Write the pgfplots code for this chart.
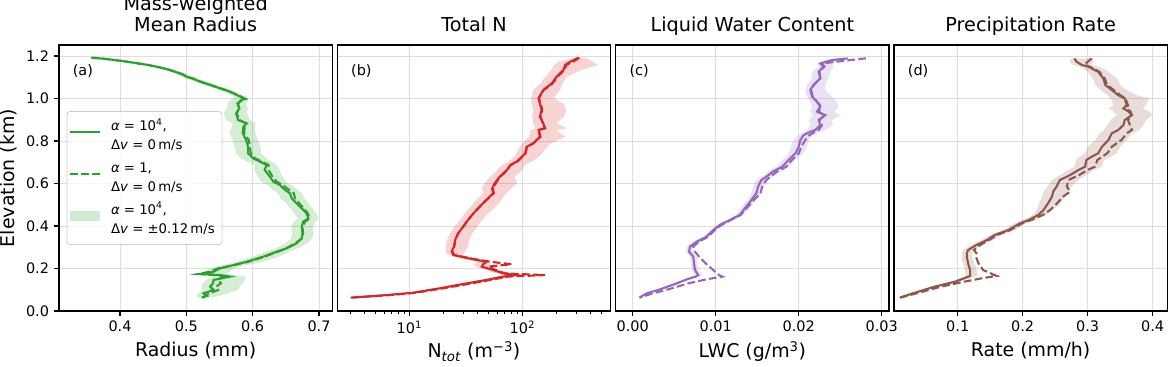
\documentclass[border=0pt]{standalone}
\usepackage{fontspec}
\setmainfont{DejaVu Sans}
\usepackage{pgfplots}
\usepackage{pgfplotstable}
\pgfplotsset{compat=1.18}
\usepgfplotslibrary{fillbetween}

\definecolor{cg}{HTML}{2CA02C}
\definecolor{cr}{HTML}{D62728}
\definecolor{cp}{HTML}{9467BD}
\definecolor{cb}{HTML}{8C564B}

\pgfplotstableread{
y sol dash lo hi
1.192 0.357 0.357 0.355 0.360
1.189 0.370 0.370 0.367 0.374
1.184 0.385 0.385 0.381 0.390
1.178 0.400 0.400 0.395 0.406
1.169 0.420 0.420 0.414 0.427
1.159 0.440 0.440 0.433 0.447
1.150 0.455 0.455 0.448 0.462
1.139 0.470 0.470 0.463 0.477
1.129 0.480 0.481 0.473 0.488
1.115 0.493 0.494 0.485 0.501
1.103 0.500 0.501 0.492 0.508
1.092 0.511 0.512 0.503 0.520
1.079 0.521 0.522 0.512 0.530
1.067 0.533 0.534 0.524 0.543
1.053 0.546 0.546 0.537 0.555
1.043 0.556 0.556 0.547 0.565
1.032 0.566 0.566 0.556 0.574
1.021 0.573 0.574 0.564 0.582
1.009 0.581 0.582 0.572 0.590
0.998 0.588 0.589 0.570 0.594
0.993 0.583 0.584 0.566 0.594
0.977 0.577 0.578 0.562 0.590
0.954 0.580 0.579 0.561 0.593
0.930 0.575 0.576 0.556 0.591
0.899 0.578 0.580 0.560 0.596
0.883 0.591 0.590 0.570 0.604
0.867 0.586 0.588 0.568 0.603
0.836 0.585 0.587 0.565 0.604
0.805 0.590 0.594 0.570 0.608
0.773 0.593 0.596 0.572 0.612
0.742 0.593 0.597 0.575 0.613
0.718 0.601 0.604 0.582 0.620
0.703 0.611 0.614 0.592 0.628
0.687 0.621 0.624 0.604 0.637
0.664 0.618 0.624 0.602 0.640
0.632 0.626 0.630 0.608 0.645
0.609 0.631 0.636 0.613 0.650
0.593 0.641 0.645 0.622 0.658
0.577 0.646 0.652 0.628 0.665
0.554 0.656 0.662 0.638 0.674
0.530 0.659 0.664 0.642 0.678
0.507 0.666 0.670 0.650 0.684
0.483 0.674 0.677 0.657 0.690
0.460 0.681 0.683 0.663 0.696
0.436 0.684 0.686 0.668 0.700
0.420 0.676 0.679 0.662 0.694
0.397 0.674 0.675 0.658 0.691
0.365 0.675 0.676 0.660 0.692
0.342 0.674 0.674 0.658 0.690
0.318 0.666 0.664 0.650 0.682
0.295 0.651 0.650 0.634 0.668
0.279 0.636 0.638 0.620 0.655
0.256 0.616 0.618 0.600 0.640
0.232 0.591 0.594 0.575 0.615
0.216 0.571 0.572 0.555 0.592
0.201 0.551 0.548 0.535 0.572
0.185 0.541 0.536 0.525 0.565
0.174 0.521 0.518 0.515 0.560
0.169 0.551 0.545 0.535 0.575
0.162 0.566 0.555 0.540 0.590
0.146 0.541 0.548 0.530 0.588
0.130 0.540 0.552 0.525 0.585
0.115 0.536 0.545 0.522 0.580
0.099 0.541 0.548 0.525 0.578
0.083 0.526 0.535 0.518 0.562
0.071 0.531 0.528 0.515 0.550
0.063 0.523 0.525 0.518 0.540
}\tabA

\pgfplotstableread{
y sol dash
1.192 313 320
1.173 264 280
1.158 239 245
1.134 231 235
1.103 201 205
1.071 182 185
1.040 153 155
1.001 139 140
0.977 143 145
0.946 148 150
0.915 143 145
0.883 153 152
0.860 159 158
0.852 139 140
0.820 143 145
0.789 125 125
0.773 109 110
0.742 106 107
0.726 99 100
0.703 89 90
0.687 78 79
0.664 73 74
0.632 63 64
0.601 57 58
0.577 54 55
0.554 55 56
0.522 48 48
0.491 42 42
0.460 37 37
0.428 33 33
0.397 30 30
0.365 27 27
0.334 25.4 25.5
0.303 24.8 25
0.279 23.7 24
0.264 24.5 25
0.253 30 31
0.240 39.4 42
0.232 48.3 52
0.220 45 80
0.209 43.7 50
0.193 55.3 58
0.177 67.9 70
0.169 89 159
0.162 68 75
0.146 48 52
0.127 30 33
0.107 18.7 20
0.086 10.8 11.5
0.075 6.3 6.8
0.063 3.03 3.1
}\tabB

% band of (b): lower edge from top to bottom, then upper edge from bottom to top
\pgfplotstableread{
x y
300 1.192
210 1.173
190 1.158
180 1.134
160 1.103
145 1.071
125 1.040
120 1.001
120 0.977
125 0.946
122 0.915
125 0.883
130 0.860
118 0.852
115 0.820
100 0.789
95 0.773
88 0.742
85 0.726
75 0.703
66 0.687
60 0.664
52 0.632
46 0.601
44 0.577
45 0.554
39 0.522
35 0.491
31 0.460
28 0.428
25 0.397
23 0.365
21.5 0.334
21 0.303
21 0.279
22 0.264
26 0.253
33 0.240
40 0.232
38 0.220
38 0.209
48 0.193
58 0.177
70 0.169
58 0.162
42 0.146
26 0.127
16.5 0.107
9.5 0.086
5.6 0.075
2.9 0.063
3.2 0.063
7 0.075
12 0.086
21 0.107
34 0.127
55 0.146
78 0.162
95 0.169
75 0.177
62 0.193
50 0.209
52 0.220
52 0.232
45 0.240
34 0.253
30 0.264
31 0.279
33 0.303
34 0.334
36 0.365
40 0.397
44 0.428
50 0.460
58 0.491
65 0.522
72 0.554
80 0.577
90 0.601
85 0.632
100 0.664
105 0.687
120 0.703
140 0.726
150 0.742
165 0.773
180 0.789
240 0.820
200 0.852
250 0.860
200 0.883
235 0.915
245 0.946
230 0.977
190 1.001
215 1.040
225 1.071
250 1.103
330 1.134
470 1.158
420 1.173
360 1.192
}\bandB

\pgfplotstableread{
y sol dash lo hi
1.189 0.0259 0.0281 0.0250 0.0262
1.181 0.0240 0.0262 0.0232 0.0250
1.165 0.0226 0.0228 0.0222 0.0240
1.150 0.0230 0.0231 0.0224 0.0242
1.126 0.0224 0.0225 0.0216 0.0238
1.095 0.0226 0.0226 0.0216 0.0236
1.064 0.0218 0.0218 0.0210 0.0232
1.040 0.0214 0.0215 0.0208 0.0232
1.009 0.0216 0.0217 0.0210 0.0240
0.985 0.0222 0.0222 0.0214 0.0246
0.962 0.0226 0.0227 0.0216 0.0248
0.938 0.0222 0.0224 0.0214 0.0243
0.922 0.0232 0.0231 0.0218 0.0250
0.899 0.0224 0.0225 0.0212 0.0240
0.875 0.0226 0.0228 0.0214 0.0241
0.852 0.0220 0.0224 0.0210 0.0232
0.844 0.0214 0.0220 0.0206 0.0226
0.828 0.0206 0.0213 0.0200 0.0216
0.805 0.0202 0.0208 0.0194 0.0212
0.773 0.0200 0.0203 0.0190 0.0210
0.742 0.0196 0.0200 0.0188 0.0205
0.711 0.0188 0.0192 0.0181 0.0196
0.679 0.0180 0.0185 0.0173 0.0188
0.656 0.0169 0.0174 0.0163 0.0177
0.632 0.0161 0.0166 0.0155 0.0168
0.616 0.0155 0.0161 0.0149 0.0162
0.585 0.0151 0.0156 0.0145 0.0157
0.554 0.0149 0.0154 0.0143 0.0155
0.522 0.0143 0.0146 0.0138 0.0148
0.483 0.0135 0.0137 0.0130 0.0140
0.452 0.0129 0.0130 0.0125 0.0133
0.428 0.0117 0.0118 0.0113 0.0121
0.405 0.0105 0.0107 0.0102 0.0109
0.381 0.0097 0.0099 0.0094 0.0100
0.350 0.0089 0.0091 0.0086 0.0092
0.326 0.0077 0.0080 0.0073 0.0081
0.303 0.0069 0.0073 0.0065 0.0073
0.279 0.0068 0.0075 0.0064 0.0072
0.256 0.0073 0.0080 0.0069 0.0077
0.224 0.0074 0.0088 0.0070 0.0078
0.193 0.0075 0.0097 0.0071 0.0080
0.169 0.0079 0.0104 0.0075 0.0084
0.162 0.0076 0.0108 0.0072 0.0081
0.150 0.0066 0.0090 0.0062 0.0070
0.130 0.0053 0.0067 0.0050 0.0056
0.102 0.0033 0.0043 0.0031 0.0035
0.083 0.0017 0.0024 0.0016 0.0019
0.063 0.0008 0.0009 0.0007 0.0009
}\tabC

\pgfplotstableread{
y sol dash lo hi
1.189 0.2795 0.3060 0.275 0.310
1.173 0.283 0.300 0.272 0.308
1.158 0.291 0.295 0.278 0.305
1.150 0.301 0.303 0.288 0.318
1.126 0.316 0.318 0.300 0.332
1.095 0.324 0.326 0.308 0.345
1.064 0.327 0.330 0.312 0.350
1.040 0.337 0.340 0.320 0.360
1.016 0.347 0.350 0.330 0.375
1.001 0.357 0.358 0.335 0.395
0.969 0.360 0.362 0.340 0.390
0.954 0.355 0.360 0.332 0.385
0.938 0.363 0.366 0.340 0.395
0.922 0.368 0.368 0.345 0.400
0.899 0.357 0.362 0.335 0.390
0.875 0.355 0.365 0.330 0.385
0.852 0.347 0.368 0.325 0.380
0.836 0.337 0.360 0.318 0.368
0.805 0.332 0.352 0.312 0.360
0.773 0.322 0.337 0.300 0.350
0.742 0.316 0.330 0.296 0.345
0.726 0.306 0.322 0.288 0.335
0.711 0.298 0.315 0.282 0.325
0.679 0.296 0.311 0.280 0.322
0.664 0.286 0.300 0.270 0.310
0.640 0.273 0.287 0.258 0.298
0.616 0.257 0.270 0.245 0.285
0.585 0.252 0.268 0.238 0.275
0.562 0.247 0.273 0.232 0.268
0.538 0.245 0.262 0.230 0.265
0.507 0.239 0.253 0.225 0.258
0.475 0.232 0.242 0.222 0.246
0.452 0.224 0.231 0.216 0.236
0.428 0.209 0.213 0.200 0.220
0.413 0.196 0.199 0.188 0.205
0.381 0.178 0.181 0.170 0.188
0.358 0.157 0.161 0.150 0.166
0.334 0.145 0.148 0.137 0.155
0.311 0.129 0.135 0.121 0.138
0.287 0.116 0.125 0.108 0.125
0.271 0.114 0.129 0.107 0.122
0.256 0.114 0.128 0.106 0.122
0.224 0.116 0.132 0.108 0.126
0.193 0.119 0.139 0.111 0.129
0.165 0.119 0.160 0.112 0.130
0.154 0.110 0.137 0.103 0.118
0.138 0.096 0.110 0.090 0.102
0.115 0.065 0.075 0.060 0.070
0.086 0.034 0.040 0.031 0.037
0.063 0.011 0.012 0.010 0.013
}\tabD

\tikzset{plab/.style={anchor=north west, inner sep=0pt, font=\fontsize{14.5}{17}\selectfont}}
\newcommand{\legtop}{\rule{0pt}{15.15bp}}
\newcommand{\legbot}{\rule[-7.35bp]{0pt}{0pt}}
\newcommand{\solidleg}{\textcolor{cg}{\rule[6.5bp]{30bp}{2.08bp}}}
\newcommand{\dashleg}{\textcolor{cg}{\rule[6.5bp]{7.7bp}{2.08bp}\hspace{3.3bp}\rule[6.5bp]{7.7bp}{2.08bp}\hspace{3.3bp}\rule[6.5bp]{7.7bp}{2.08bp}}}
\newcommand{\bandlegsample}{\textcolor{cg!22}{\rule[2.2bp]{30bp}{10.7bp}}}

\pgfplotsset{
  panel/.style={
    scale only axis, width=273.3bp, height=266bp,
    anchor=south west,
    ymin=0, ymax=1.252,
    ytick={0,0.2,0.4,0.6,0.8,1.0,1.2},
    scaled ticks=false,
    grid=major,
    major grid style={draw=black!13, line width=0.8bp},
    axis line style={line width=1.1bp},
    tick style={black, line width=1.1bp},
    tick align=outside,
    major tick length=4.9bp, minor tick length=2.8bp,
    xtick pos=left, ytick pos=left,
    tick label style={font=\fontsize{14.5}{17}\selectfont, inner sep=0pt},
    xticklabel style={anchor=north, yshift=-4.9bp},
    yticklabel style={anchor=east, xshift=-4.9bp},
    title style={font=\fontsize{19.3}{20.7}\selectfont, at={([yshift=7.6bp]axis description cs:0.5,1)}, anchor=base, inner sep=0pt, align=center},
    xlabel style={font=\fontsize{19}{23}\selectfont, at={([yshift=-30.5bp]axis description cs:0.5,0)}, anchor=north, inner sep=0pt},
    ylabel style={font=\fontsize{19}{23}\selectfont, at={([xshift=-44.5bp]axis description cs:0,0.5)}, anchor=base, inner sep=0pt},
  },
  noy/.style={yticklabels={}, ytick style={draw=none}},
  sol/.style={#1, line width=2.08bp},
  dsh/.style={#1, line width=2.08bp, dash pattern=on 7.7bp off 3.3bp},
  band/.style={fill=#1, fill opacity=0.2, draw=none},
}

\begin{document}
\begin{tikzpicture}

% (a)
\begin{axis}[panel, at={(59bp,56bp)},
  xmin=0.308, xmax=0.720,
  xtick={0.4,0.5,0.6,0.7}, xticklabels={0.4,0.5,0.6,0.7},
  yticklabels={0.0,0.2,0.4,0.6,0.8,1.0,1.2},
  title={Mass-weighted\\Mean Radius},
  xlabel={Radius (mm)}, ylabel={Elevation (km)},
]
\addplot[name path=loa, draw=none, forget plot] table[x=lo, y=y] {\tabA};
\addplot[name path=hia, draw=none, forget plot] table[x=hi, y=y] {\tabA};
\addplot[band=cg] fill between[of=loa and hia];
\addplot[dsh=cg] table[x=dash, y=y] {\tabA};
\addplot[sol=cg] table[x=sol, y=y] {\tabA};
\node[plab] at ([yshift=-19bp]axis description cs:0.05,1) {(a)};
\node[anchor=west, draw=black!20, line width=0.8bp, rounded corners=3bp, fill=white, fill opacity=0.8, text opacity=1,
      inner xsep=3.3bp, inner ysep=3.6bp, font=\fontsize{13.3}{19.5}\selectfont]
  at (axis description cs:0.028,0.5) {%
  \begin{tabular}{@{}l@{\hspace{10.7bp}}l@{\hspace{4bp}}}
  \solidleg & \begin{tabular}{@{}l@{}}\legtop\textit{α} = 10\textsuperscript{4},\\Δ\textit{v} = 0\,m/s\legbot\end{tabular}\\
  \dashleg & \begin{tabular}{@{}l@{}}\legtop\textit{α} = 1,\\Δ\textit{v} = 0\,m/s\legbot\end{tabular}\\
  \bandlegsample & \begin{tabular}{@{}l@{}}\legtop\textit{α} = 10\textsuperscript{4},\\Δ\textit{v} = ±0.12\,m/s\legbot\end{tabular}
  \end{tabular}};
\end{axis}

% (b)
\begin{axis}[panel, noy, at={(337.3bp,56bp)},
  xmode=log, xmin=2.305, xmax=604,
  xtick={10,100}, xticklabels={10\textsuperscript{1},10\textsuperscript{2}},
  minor xtick={3,4,5,6,7,8,9,20,30,40,50,60,70,80,90,200,300,400,500},
  title={Total N},
  xlabel={N\textsubscript{\textit{tot}} (m\textsuperscript{−3})},
]
\addplot[band=cr] table[x=x, y=y] {\bandB} -- cycle;
\addplot[dsh=cr] table[x=dash, y=y] {\tabB};
\addplot[sol=cr] table[x=sol, y=y] {\tabB};
\node[plab] at ([yshift=-19bp]axis description cs:0.05,1) {(b)};
\end{axis}

% (c)
\begin{axis}[panel, noy, at={(615.7bp,56bp)},
  xmin=-0.002045, xmax=0.03088,
  xtick={0,0.01,0.02,0.03}, xticklabels={0.00,0.01,0.02,0.03},
  title={Liquid Water Content},
  xlabel={LWC (g/m\textsuperscript{3})},
]
\addplot[name path=loc, draw=none, forget plot] table[x=lo, y=y] {\tabC};
\addplot[name path=hic, draw=none, forget plot] table[x=hi, y=y] {\tabC};
\addplot[band=cp] fill between[of=loc and hic];
\addplot[dsh=cp] table[x=dash, y=y] {\tabC};
\addplot[sol=cp] table[x=sol, y=y] {\tabC};
\node[plab] at ([yshift=-19bp]axis description cs:0.05,1) {(c)};
\end{axis}

% (d)
\begin{axis}[panel, noy, at={(894bp,56bp)},
  xmin=0.002, xmax=0.4225,
  xtick={0.1,0.2,0.3,0.4}, xticklabels={0.1,0.2,0.3,0.4},
  title={Precipitation Rate},
  xlabel={Rate (mm/h)},
]
\addplot[name path=lod, draw=none, forget plot] table[x=lo, y=y] {\tabD};
\addplot[name path=hid, draw=none, forget plot] table[x=hi, y=y] {\tabD};
\addplot[band=cb] fill between[of=lod and hid];
\addplot[dsh=cb] table[x=dash, y=y] {\tabD};
\addplot[sol=cb] table[x=sol, y=y] {\tabD};
\node[plab] at ([yshift=-19bp]axis description cs:0.05,1) {(d)};
\end{axis}

\pgfresetboundingbox
\path[use as bounding box] (0,0) rectangle (1169bp,367bp);
\end{tikzpicture}
\end{document}
